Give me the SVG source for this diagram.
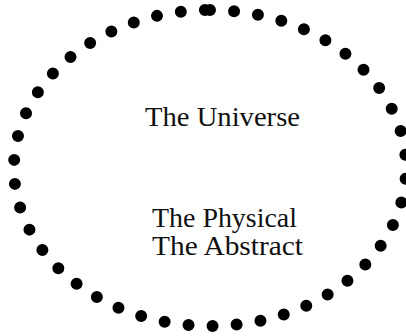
<svg xmlns="http://www.w3.org/2000/svg" width="406" height="336" viewBox="0 0 406 336">
<style>
.lbl{font-family:"Liberation Serif","DejaVu Serif",serif;font-size:28px;fill:#111}
.dots{fill:none;stroke:#000;stroke-width:12;stroke-linecap:round;stroke-dasharray:0 24.13}
</style>
<rect width="406" height="336" fill="#fff"/>
<g id="connectors"></g>
<g id="universe">
<path class="dots" d="M 210 10 A 196 158 0 1 1 210 326 A 196 158 0 1 1 210 10"/>
<text class="lbl" x="145" y="126" textLength="155" lengthAdjust="spacingAndGlyphs">The Universe</text>
</g>
<g id="physical">
<text class="lbl" x="152" y="227" textLength="145" lengthAdjust="spacingAndGlyphs">The Physical</text>
</g>
<g id="abstract">
<text class="lbl" x="152" y="255" textLength="151" lengthAdjust="spacingAndGlyphs">The Abstract</text>
</g>
</svg>
